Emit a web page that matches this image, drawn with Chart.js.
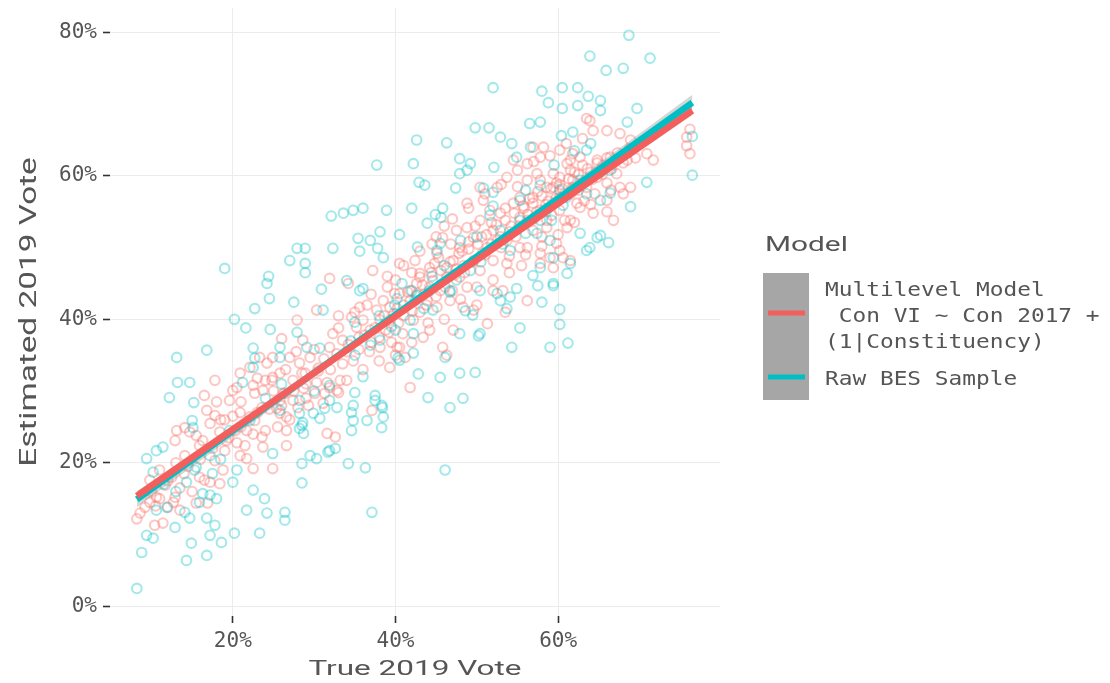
<!DOCTYPE html>
<html>
<head>
<meta charset="utf-8">
<script src="https://cdn.jsdelivr.net/npm/chart.js@4/dist/chart.umd.min.js"></script>
<style>
  html, body { margin: 0; padding: 0; background: #ffffff; }
  #wrap { width: 1110px; height: 683px; }
</style>
</head>
<body>
<div id="wrap"><canvas id="chart" width="1110" height="683"></canvas></div>
<script>
// Constituency estimates: [true 2019 Con vote %, estimated 2019 Con vote %]
const rawBesPoints = [
  [68.7,79.6],[63.9,76.7],[71.3,76.4],[65.9,74.7],[68.0,75.0],[52.0,72.3],[58.0,71.8],[60.5,72.3],[62.4,72.3],
  [58.8,70.2],[60.5,69.4],[62.4,69.8],[63.7,71.1],[65.2,70.5],[65.2,69.1],[69.7,69.4],[68.5,67.5],[49.8,66.7],
  [51.5,66.7],[52.9,65.4],[56.5,67.3],[57.8,67.5],[61.8,66.1],[60.4,65.6],[42.6,65.0],[46.3,64.6],[54.3,64.5],
  [56.6,64.0],[63.5,63.6],[37.7,61.5],[42.2,61.7],[47.9,62.4],[49.2,61.7],[52.1,61.2],[54.9,62.6],[47.9,60.3],
  [48.8,60.8],[42.9,59.1],[43.6,58.7],[47.4,58.3],[50.8,58.3],[52.0,57.7],[76.5,60.1],[70.9,59.1],[65.2,60.5],
  [68.9,55.7],[66.4,57.6],[60.6,55.9],[59.2,53.8],[36.0,55.5],[38.9,55.2],[42.0,55.5],[44.9,54.6],[45.6,54.2],
  [45.8,55.5],[32.1,54.4],[33.6,54.8],[34.8,55.2],[43.9,53.4],[55.3,53.8],[57.4,52.0],[62.7,52.0],[64.8,51.4],
  [66.2,50.7],[63.5,49.6],[65.2,51.7],[63.9,50.0],[38.1,52.2],[40.5,51.8],[36.9,51.0],[35.4,51.3],[35.6,49.5],
  [37.8,49.9],[32.3,49.9],[27.9,49.9],[28.9,49.9],[42.7,50.1],[45.1,49.6],[45.5,50.6],[38.5,48.6],[27.0,48.2],
  [28.9,47.8],[28.9,46.5],[24.4,46.0],[24.2,45.0],[19.0,47.1],[30.9,44.2],[34.0,45.4],[35.6,44.0],[36.0,44.3],
  [27.5,42.4],[24.5,42.9],[22.7,41.5],[20.2,40.0],[21.6,38.8],[24.6,38.6],[31.1,41.3],[35.0,39.6],[40.2,42.9],
  [40.8,45.0],[42.6,43.3],[44.6,41.3],[57.8,47.2],[59.4,45.0],[56.9,46.1],[61.5,47.8],[59.4,48.6],[61.1,46.4],
  [57.5,44.7],[59.4,44.7],[54.9,44.3],[54.1,43.1],[58.0,42.4],[60.2,41.4],[60.2,39.3],[59.0,36.1],[61.2,36.7],
  [55.3,38.8],[54.3,36.1],[50.2,37.7],[49.5,40.6],[52.9,42.6],[53.7,41.5],[48.6,41.2],[47.9,38.0],[50.4,38.0],
  [50.4,44.0],[52.5,43.6],[46.7,43.8],[42.2,35.3],[40.5,34.3],[42.8,32.4],[45.5,31.9],[47.9,32.5],[49.8,32.6],
  [44.0,29.1],[46.7,27.7],[48.3,29.0],[38.4,27.7],[37.5,29.4],[38.3,24.9],[36.5,25.9],[46.1,34.7],[42.2,38.0],
  [40.3,34.6],[36.3,19.3],[46.1,19.0],[37.1,13.1],[34.2,19.9],[32.6,22.0],[34.6,24.5],[34.6,27.0],[31.7,21.5],
  [29.5,21.0],[28.5,19.9],[24.9,21.3],[28.5,17.2],[30.3,20.6],[31.9,21.7],[8.2,2.5],[9.4,20.6],[10.6,21.7],
  [11.4,22.2],[10.2,18.7],[10.6,13.4],[11.9,13.8],[12.9,11.0],[9.4,9.9],[10.2,9.5],[8.8,7.5],[14.9,8.8],
  [14.3,6.4],[16.8,7.1],[18.6,8.9],[20.2,10.2],[17.2,9.9],[17.8,11.3],[16.8,12.3],[14.7,12.3],[14.1,13.1],
  [21.7,13.4],[23.3,10.2],[24.2,13.0],[26.4,13.1],[26.4,12.0],[23.9,15.0],[22.5,16.2],[20.0,17.3],[15.9,14.5],
  [16.3,15.7],[17.2,15.5],[18.0,15.0],[14.3,17.3],[15.5,19.4],[17.5,18.5],[13.2,31.2],[14.7,31.2],[12.2,29.1],
  [15.2,28.4],[15.0,25.9],[15.1,24.9],[16.8,35.7],[13.1,34.7],[22.5,36.0],[22.7,34.6],[25.8,36.1],[22.5,33.3],
  [25.8,34.7],[27.9,38.2],[29.1,36.1],[30.7,36.0],[21.2,31.2],[29.9,26.9],[31.3,27.6],[32.8,27.7],[34.8,28.0],
  [34.8,25.9],[28.6,25.6],[28.2,24.8],[35.0,29.8],[31.9,28.7],[37.5,28.7],[38.3,28.0],[30.7,26.2],[38.5,26.4],
  [35.0,35.0],[36.9,36.4],[41.8,39.9],[46.7,44.0],[49.2,46.8],[54.1,49.6],[57.8,53.8],[28.2,28.7],[25.8,27.3],
  [31.9,30.8],[55.3,56.6],[60.2,58.0],[62.7,59.4],[65.2,56.6],[66.4,60.8],[57.8,58.7],[52.9,52.4],[51.6,54.5],
  [44.2,44.0],[42.4,42.6],[39.9,42.0],[38.1,37.1],[22.1,25.9],[19.6,24.5],[17.2,21.0],[15.3,19.0],[59.0,51.0],
  [28.2,26.9],[28.5,25.2],[28.7,24.1],[76.5,65.5],
  [34.5,37.0],[39.5,39.0],[43.5,41.5],[47.5,45.5],[50.5,48.0],[53.2,50.5],[56.0,52.0],[58.5,55.0],[61.0,57.0],
  [63.5,57.5],[36.0,32.0],[40.0,38.5],[44.5,46.0],[48.0,51.0],[52.0,55.8],[56.0,58.0],[59.5,61.5],[62.0,63.5],
  [64.0,64.5],[30.0,30.0],[26.0,31.0],[24.0,29.0],[20.5,19.0],[18.5,20.5],[13.0,16.0],[11.5,17.0],[46.0,47.5],
  [50.0,51.5],[42.0,44.0],[38.0,40.5]
];

const multilevelPoints = [
  [8.2,12.2],[8.6,13.0],[9.2,13.8],[9.8,14.5],[10.6,15.2],[10.4,11.3],[11.4,11.6],[12.0,13.8],[12.9,15.2],
  [13.1,24.5],[14.1,24.9],[14.7,24.3],[15.5,23.8],[16.3,23.1],[16.8,27.3],[17.8,26.6],[18.4,24.3],[19.2,23.1],
  [15.9,18.0],[16.5,17.6],[17.2,17.3],[18.4,17.1],[18.8,19.0],[16.9,14.4],[20.0,30.1],[20.9,27.0],[22.1,26.4],
  [22.7,29.7],[23.6,23.6],[23.7,22.2],[20.9,21.0],[21.7,20.6],[22.5,19.2],[24.9,19.2],[24.9,31.9],[26.2,29.7],
  [26.6,26.4],[26.6,22.4],[28.0,27.7],[28.7,30.4],[30.3,31.2],[31.1,28.3],[31.9,30.5],[33.2,31.5],[33.0,29.8],
  [31.6,24.1],[26.6,24.5],[25.4,27.6],[19.6,28.7],[17.2,25.5],[21.7,24.5],[15.5,14.4],[13.5,13.4],[12.7,14.5],
  [12.9,23.1],[14.1,21.0],[15.9,22.4],[17.8,20.3],[19.0,21.7],[20.3,24.5],[21.5,22.4],[22.7,25.9],[24.0,24.5],
  [11.0,19.0],[11.7,16.9],[9.8,17.6],[16.5,29.4],[17.8,31.5],[24.0,31.5],[25.8,28.7],[20.5,30.5],[22.5,30.8],
  [23.7,30.1],[24.8,31.5],[25.8,32.5],[26.4,29.7],[27.4,31.5],[28.2,33.9],[28.9,32.5],[27.0,34.7],[24.9,34.7],
  [24.2,33.9],[29.5,34.7],[30.5,33.2],[31.6,31.2],[31.3,29.7],[31.9,36.1],[32.3,38.0],[33.5,37.1],[34.6,40.3],
  [35.2,38.9],[36.0,39.9],[36.9,38.5],[37.7,41.3],[38.5,42.6],[39.3,39.9],[39.9,43.6],[40.2,41.5],[40.9,38.0],
  [41.8,44.0],[42.6,45.0],[43.0,46.4],[43.9,42.6],[44.6,45.4],[45.3,48.6],[46.3,45.9],[45.8,36.1],[41.2,34.7],
  [38.1,36.1],[34.2,45.0],[35.6,41.7],[37.2,46.8],[40.5,47.8],[42.4,48.2],[44.2,47.2],[31.9,45.7],[30.3,41.3],
  [28.6,37.1],[27.9,39.9],[26.0,37.3],[23.3,34.7],[22.1,33.3],[20.9,32.5],[23.6,27.7],[25.8,26.9],[27.4,28.7],
  [29.3,28.0],[30.1,29.7],[38.1,39.9],[39.3,41.7],[40.5,43.6],[41.8,42.6],[43.0,45.9],[44.2,44.5],[45.1,49.2],
  [46.3,47.2],[47.1,48.2],[47.9,50.0],[48.8,52.8],[49.6,51.4],[50.4,53.8],[51.3,50.0],[52.0,52.4],[52.9,54.8],
  [53.7,51.0],[54.5,56.2],[55.3,54.2],[56.2,59.4],[56.9,57.0],[57.8,55.2],[58.6,58.4],[59.4,60.3],[60.2,57.0],
  [61.1,61.7],[61.8,59.4],[61.8,63.1],[56.2,61.7],[57.4,60.3],[52.5,58.4],[50.8,56.6],[48.8,56.2],[47.5,52.4],
  [45.8,51.4],[45.1,41.7],[46.7,42.6],[48.8,44.5],[50.4,46.8],[52.0,48.2],[53.7,47.8],[55.3,50.0],[56.9,52.4],
  [58.6,53.8],[59.8,50.6],[61.1,52.8],[62.3,56.2],[42.2,39.9],[43.4,37.5],[40.5,36.1],[46.3,35.0],[47.1,38.5],
  [49.6,41.3],[51.3,39.4],[47.9,45.9],[49.6,48.2],[51.6,55.2],[50.4,58.4],[53.7,59.8],[55.3,57.0],[54.5,62.2],
  [57.8,62.6],[60.2,63.6],[57.8,59.4],[59.4,58.4],[60.2,59.8],[61.5,60.8],[61.8,58.4],[63.5,58.4],[64.8,59.8],
  [66.0,59.0],[67.2,60.3],[67.6,58.4],[68.9,58.4],[63.9,67.7],[64.3,66.3],[66.0,66.3],[67.6,65.9],[68.9,65.0],
  [70.9,63.1],[71.7,62.2],[75.8,65.4],[76.2,63.1],[75.8,64.2],[56.2,53.8],[58.6,52.8],[60.2,55.2],[61.5,53.8],
  [62.7,55.6],[64.3,54.8],[66.0,56.6],[66.8,53.8],[64.8,62.2],[62.7,62.6],[61.5,62.2],[66.4,62.6],[68.5,62.2],
  [56.9,64.0],[58.2,64.0],[63.5,68.0],[56.2,50.0],[57.8,49.2],[60.2,49.6],[61.5,48.2],[59.4,47.2],[41.8,30.5],
  [37.1,27.3],[32.8,30.1],[32.6,23.6],[39.3,33.3],[40.2,36.1],[44.2,38.5],[48.3,41.7],[56.2,42.6],[53.2,44.0],
  [57.8,47.8],[59.0,48.6],[60.6,48.6],[76.2,66.5],[39.0,44.5],[40.0,45.5],[41.0,40.5],[42.0,46.5],[43.5,43.5],
  [44.8,47.8],[45.5,44.0],[46.8,50.5],[47.5,47.0],[48.2,49.5],[48.5,46.5],[49.0,50.8],[49.8,53.0],[50.6,51.5],
  [51.0,49.0],[51.8,53.5],[52.5,51.0],[53.0,50.0],[53.5,55.5],[54.2,53.0],[54.8,51.5],[55.0,58.5],[55.8,55.5],
  [56.5,56.8],[57.0,54.0],[57.5,57.8],[58.0,51.5],[58.8,56.5],[59.2,54.5],[59.8,59.0],[60.5,58.2],[60.8,53.8],
  [61.5,57.5],[62.0,60.5],[62.5,58.0],[63.0,61.5],[63.2,56.5],[64.0,60.5],[64.5,57.5],[65.5,61.5],[66.5,58.0],
  [36.5,42.0],[37.0,36.8],[35.5,37.5],[34.0,35.5],[33.0,40.5],[30.0,35.8],[29.0,31.0],[27.8,35.5],[26.5,33.0],
  [25.0,30.0],[23.0,31.8],[21.0,28.5],[19.0,26.0],[18.0,28.5],[14.0,18.5],[13.0,20.0],[12.0,17.5],[10.5,14.0],
  [20.5,22.8],[23.0,27.0],[38.8,38.5],[39.5,36.8],[44.5,50.5],[46.0,53.0],[43.0,41.0],[47.0,44.0],[50.0,44.5],
  [52.0,45.5],[54.0,46.5],[55.5,47.5],[53.5,41.0],
  [30.5,32.8],[31.2,34.5],[32.0,33.0],[32.8,35.2],[33.5,33.8],[34.2,36.5],[34.8,34.2],[35.5,35.8],[36.2,37.8],
  [36.8,35.5],[37.5,38.8],[38.0,37.5],[38.6,40.5],[39.2,38.2],[39.8,40.8],[40.4,39.5],[41.0,42.0],[41.5,43.8],
  [42.1,41.2],[42.7,43.5],[43.3,44.8],[43.8,42.0],[44.4,46.5],[45.0,43.2],[45.6,46.8],[46.1,44.5],[46.7,48.0],
  [47.3,46.2],[47.8,49.2],[48.4,47.5],[49.0,49.8],[49.5,48.0],[50.1,50.5],[50.7,49.2],[51.2,51.8],[51.8,50.5],
  [52.4,53.2],[52.9,51.5],[53.5,53.8],[54.0,52.2],[54.6,54.8],[55.2,53.0],[55.7,55.8],[56.3,54.6],[56.9,56.2],
  [57.4,55.0],[58.0,57.2],[58.5,56.0],[59.1,58.2],[59.7,56.8],[60.2,58.8],[60.8,57.5],[61.3,59.6],[61.9,58.2],
  [62.5,60.2],[63.0,59.0],[63.6,61.0],[64.2,59.5],[64.8,61.8],[65.4,60.2],[66.0,62.5],[66.6,61.0],[67.3,63.2],
  [68.0,61.8],[68.8,63.8],[69.5,62.5],
  [33.0,38.8],[35.0,41.0],[37.0,43.5],[39.0,46.0],[41.0,47.5],[43.0,49.5],[45.0,51.5],[47.0,54.0],[49.0,55.5],
  [51.0,57.5],[53.0,58.8],[55.0,60.8],[57.0,62.0],[59.0,62.8],[61.0,64.5],[63.0,65.2],
  [34.0,31.5],[36.0,33.0],[38.0,34.2],[40.0,35.0],[42.0,36.8],[44.0,39.5],[46.0,40.0],[48.0,42.8],[50.0,42.0],
  [52.0,44.0],[54.0,48.8],[56.0,49.0],[58.0,50.2],[60.0,51.8],[62.0,53.5],[64.0,56.0],[66.0,55.0],[68.0,57.5],
  [12.5,18.0],[14.5,19.5],[16.0,20.5],[17.5,22.0],[19.5,23.5],[21.0,25.0],[22.5,24.0],[24.5,27.5],[26.0,28.0],
  [27.5,30.0],[29.0,29.0],[10.0,16.0],[11.0,15.0],[13.5,16.5],[15.0,16.0],[18.5,26.0],[20.0,26.5],[25.5,25.0],
  [27.0,26.0],[28.5,32.5]
];

// Fitted lines (end points) and their confidence bands
const rawBesFit      = [[8.2,14.9],[76.5,70.2]];
const rawBesBandHigh = [[8.2,16.0],[42.0,42.6],[76.5,71.3]];
const rawBesBandLow  = [[8.2,13.8],[42.0,41.9],[76.5,69.1]];
const multilevelFit      = [[8.2,15.4],[76.5,69.1]];
const multilevelBandHigh = [[8.2,16.0],[42.0,42.0],[76.5,69.7]];
const multilevelBandLow  = [[8.2,14.8],[42.0,41.6],[76.5,68.5]];

const xTickValues = [20, 40, 60];
const yTickValues = [0, 20, 40, 60, 80];
const xLimits = [4.9, 79.9];
const yLimits = [-1.35, 83.4];

const xTitle = 'True 2019 Vote';
const yTitle = 'Estimated 2019 Vote';
const legendTitle = 'Model';
const legendMultilevelLines = ['Multilevel Model', ' Con VI ~ Con 2017 +', '(1|Constituency)'];
const legendRawLines = ['Raw BES Sample'];

const RED = '#F8766D';
const RED_LINE = '#F45F5E';
const TEAL = '#00BFC4';
const TEXT = '#555555';
const MONO = '"DejaVu Sans Mono", monospace';
const SANS = 'Roboto, "Noto Sans", sans-serif';

const toXY = arr => arr.map(p => ({ x: p[0], y: p[1] }));

// Writes a string with a horizontal stretch along its own direction
function wideText(ctx, txt, x, y, angle, stretch, align) {
  ctx.save();
  ctx.translate(x, y);
  ctx.rotate(angle);
  ctx.scale(stretch, 1);
  ctx.textAlign = align;
  ctx.fillText(txt, 0, 0);
  ctx.restore();
}

// Axis titles and the side legend (title, grey key column, key lines, labels)
const annotations = {
  id: 'annotations',
  afterDraw(chart) {
    const ctx = chart.ctx;
    const area = chart.chartArea;
    ctx.save();
    ctx.fillStyle = TEXT;
    ctx.textBaseline = 'alphabetic';
    ctx.font = '400 21px ' + SANS;
    wideText(ctx, xTitle, (area.left + area.right) / 2, 675, 0, 1.5, 'center');
    ctx.font = '400 23px ' + SANS;
    wideText(ctx, yTitle, 36, (area.top + area.bottom) / 2, -Math.PI / 2, 1.45, 'center');

    ctx.font = '400 21px ' + SANS;
    wideText(ctx, legendTitle, 765, 251, 0, 1.42, 'left');

    ctx.fillStyle = '#a6a6a6';
    ctx.fillRect(763, 273, 46, 127);

    ctx.lineCap = 'butt';
    ctx.lineWidth = 5;
    ctx.strokeStyle = RED_LINE;
    ctx.beginPath(); ctx.moveTo(768, 313); ctx.lineTo(805, 313); ctx.stroke();
    ctx.strokeStyle = TEAL;
    ctx.beginPath(); ctx.moveTo(768, 377); ctx.lineTo(805, 377); ctx.stroke();

    ctx.fillStyle = TEXT;
    ctx.font = '19px ' + MONO;
    legendMultilevelLines.forEach((t, i) => wideText(ctx, t, 825, 296 + i * 26, 0, 1.2, 'left'));
    legendRawLines.forEach((t, i) => wideText(ctx, t, 825, 385 + i * 26, 0, 1.2, 'left'));
    ctx.restore();
  }
};

const pointStyle = (color) => ({
  type: 'scatter',
  pointStyle: 'circle',
  pointRadius: 4.8,
  pointBorderWidth: 2.1,
  pointBackgroundColor: 'rgba(0,0,0,0)',
  pointBorderColor: color,
  showLine: false
});

const lineStyle = (color, width) => ({
  type: 'line',
  borderColor: color,
  borderWidth: width,
  pointRadius: 0,
  fill: false,
  tension: 0
});

const bandFill = 'rgba(153,153,153,0.4)';
const clear = 'rgba(0,0,0,0)';

const axisCommon = {
  type: 'linear',
  ticks: {
    callback: v => v + '%',
    font: { family: MONO, size: 21 },
    color: TEXT,
    padding: 6,
    maxRotation: 0,
    autoSkip: false
  },
  grid: { color: '#ececec', lineWidth: 1, drawTicks: true, tickLength: 7, tickColor: '#333333', tickWidth: 1.6 },
  border: { display: false },
  title: { display: false }
};

new Chart(document.getElementById('chart'), {
  data: {
    datasets: [
      Object.assign({ label: 'Multilevel fit', data: toXY(multilevelFit), order: 0 }, lineStyle(RED_LINE, 6.5)),
      Object.assign({ label: 'Raw BES fit', data: toXY(rawBesFit), order: 1 }, lineStyle(TEAL, 6.5)),
      Object.assign({ label: 'Raw band high', data: toXY(rawBesBandHigh), order: 2 }, lineStyle(clear, 0)),
      Object.assign({ label: 'Raw band low', data: toXY(rawBesBandLow), order: 2 }, lineStyle(clear, 0), { fill: { target: 2 }, backgroundColor: bandFill }),
      Object.assign({ label: 'ML band high', data: toXY(multilevelBandHigh), order: 2 }, lineStyle(clear, 0)),
      Object.assign({ label: 'ML band low', data: toXY(multilevelBandLow), order: 2 }, lineStyle(clear, 0), { fill: { target: 4 }, backgroundColor: bandFill }),
      Object.assign({ label: 'Raw BES Sample', data: toXY(rawBesPoints), order: 3 }, pointStyle('rgba(0,191,196,0.36)')),
      Object.assign({ label: 'Multilevel Model', data: toXY(multilevelPoints), order: 4 }, pointStyle('rgba(248,118,109,0.4)'))
    ]
  },
  options: {
    responsive: false,
    animation: false,
    events: [],
    devicePixelRatio: 1,
    layout: { padding: { top: 8, right: 390, left: 0, bottom: 0 } },
    plugins: {
      legend: { display: false },
      tooltip: { enabled: false },
      filler: { propagate: false }
    },
    scales: {
      x: Object.assign({}, axisCommon, {
        min: xLimits[0],
        max: xLimits[1],
        afterBuildTicks: s => { s.ticks = xTickValues.map(v => ({ value: v })); },
        afterFit: s => { s.height = 67; s.paddingLeft = 0; s.paddingRight = 0; }
      }),
      y: Object.assign({}, axisCommon, {
        min: yLimits[0],
        max: yLimits[1],
        afterBuildTicks: s => { s.ticks = yTickValues.map(v => ({ value: v })); },
        afterFit: s => { s.width = 110; s.paddingTop = 0; s.paddingBottom = 0; }
      })
    }
  },
  plugins: [annotations]
});
</script>
</body>
</html>
